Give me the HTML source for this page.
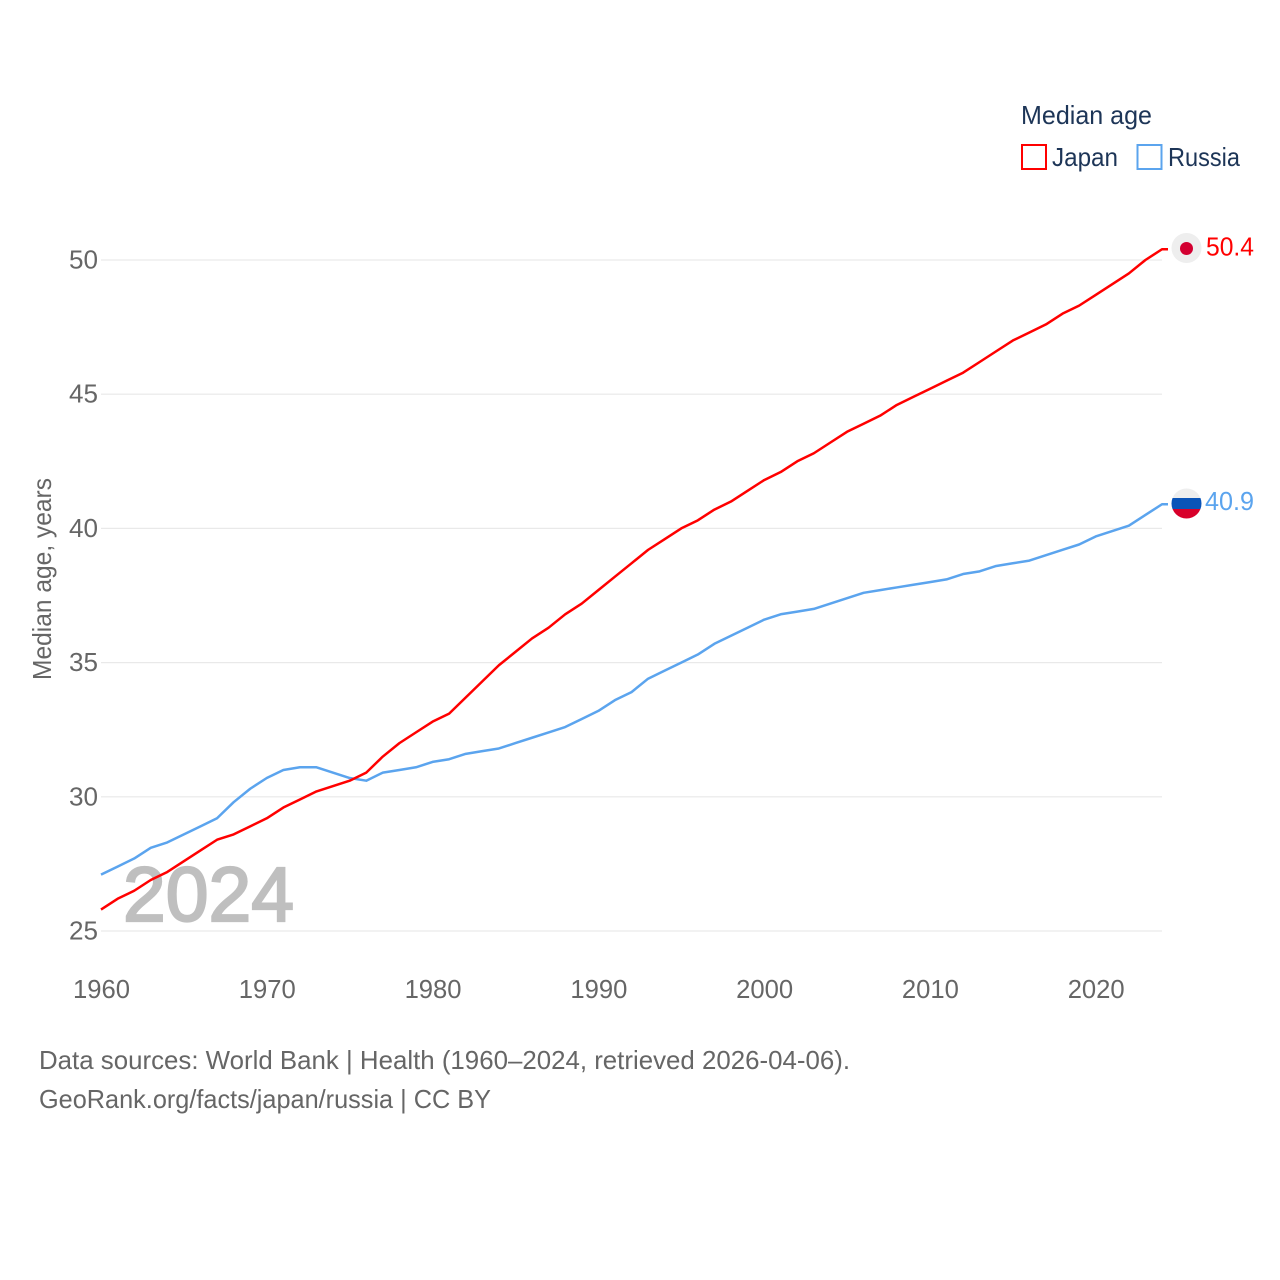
<!DOCTYPE html>
<html lang="en">
<head>
<meta charset="utf-8">
<title>Median age: Japan and Russia</title>
<style>
html,body{margin:0;padding:0;background:#fff;width:1280px;height:1280px;overflow:hidden}
svg{display:block}
text{font-family:"Liberation Sans",sans-serif;font-size:26px}
</style>
</head>
<body>
<svg id="chart" xmlns="http://www.w3.org/2000/svg" width="1280" height="1280" viewBox="0 0 1280 1280">
  <defs>
    <clipPath id="ru-clip"><circle cx="1186.5" cy="503.5" r="15"/></clipPath>
  </defs>
  <g id="grid"></g>
  <text x="123" y="921" fill="#bfbfbf" stroke="#bfbfbf" stroke-width="2.2" style="font-size:77px" textLength="171" lengthAdjust="spacingAndGlyphs">2024</text>
  <g id="yticks"></g>
  <g id="xticks"></g>
  <text transform="translate(51,680) rotate(-90)" fill="#666" textLength="202" lengthAdjust="spacingAndGlyphs">Median age, years</text>
  <g id="series"></g>

  <g>
    <text x="1021" y="124" fill="#1d3557" textLength="131" lengthAdjust="spacingAndGlyphs">Median age</text>
    <rect x="1022" y="145" width="24" height="24" fill="none" stroke="#ff0000" stroke-width="2"/>
    <text x="1052" y="166" fill="#1d3557" textLength="66" lengthAdjust="spacingAndGlyphs">Japan</text>
    <rect x="1137.5" y="145" width="24" height="24" fill="none" stroke="#5ba4ee" stroke-width="2"/>
    <text x="1168" y="166" fill="#1d3557" textLength="72" lengthAdjust="spacingAndGlyphs">Russia</text>
  </g>

  <g>
    <circle cx="1186.5" cy="248" r="15" fill="#eeeeee"/>
    <circle cx="1186.5" cy="248.5" r="6.5" fill="#d30031"/>
  </g>
  <g clip-path="url(#ru-clip)">
    <rect x="1171" y="488" width="31" height="10" fill="#eeeeee"/>
    <rect x="1171" y="498" width="31" height="11" fill="#0a54b8"/>
    <rect x="1171" y="509" width="31" height="11" fill="#d8002a"/>
  </g>
  <g id="endlabels"></g>

  <text x="39" y="1069" fill="#666" textLength="811" lengthAdjust="spacingAndGlyphs">Data sources: World Bank | Health (1960–2024, retrieved 2026-04-06).</text>
  <text x="39" y="1108" fill="#666" textLength="452" lengthAdjust="spacingAndGlyphs">GeoRank.org/facts/japan/russia | CC BY</text>
</svg>
<script>
const years = [];
for (let yr = 1960; yr <= 2024; yr++) years.push(yr);
const japanValues = [25.8,26.2,26.5,26.9,27.2,27.6,28.0,28.4,28.6,28.9,29.2,29.6,29.9,30.2,30.4,30.6,30.9,31.5,32.0,32.4,32.8,33.1,33.7,34.3,34.9,35.4,35.9,36.3,36.8,37.2,37.7,38.2,38.7,39.2,39.6,40.0,40.3,40.7,41.0,41.4,41.8,42.1,42.5,42.8,43.2,43.6,43.9,44.2,44.6,44.9,45.2,45.5,45.8,46.2,46.6,47.0,47.3,47.6,48.0,48.3,48.7,49.1,49.5,50.0,50.4];
const russiaValues = [27.1,27.4,27.7,28.1,28.3,28.6,28.9,29.2,29.8,30.3,30.7,31.0,31.1,31.1,30.9,30.7,30.6,30.9,31.0,31.1,31.3,31.4,31.6,31.7,31.8,32.0,32.2,32.4,32.6,32.9,33.2,33.6,33.9,34.4,34.7,35.0,35.3,35.7,36.0,36.3,36.6,36.8,36.9,37.0,37.2,37.4,37.6,37.7,37.8,37.9,38.0,38.1,38.3,38.4,38.6,38.7,38.8,39.0,39.2,39.4,39.7,39.9,40.1,40.5,40.9];
const yTicks = [25,30,35,40,45,50];
const xTicks = [1960,1970,1980,1990,2000,2010,2020];

const NS = 'http://www.w3.org/2000/svg';
function xScale(yr){ return 101 + (yr - 1960) * (1162 - 101) / 64; }
function yScale(v){ return 931 - (v - 25) * (931 - 260) / 25; }
function make(tag, parent, attrs){
  const el = document.createElementNS(NS, tag);
  for (const k in attrs) el.setAttribute(k, attrs[k]);
  parent.appendChild(el);
  return el;
}

const grid = document.getElementById('grid');
const yG = document.getElementById('yticks');
yTicks.forEach(function(t){
  const ln = make('line', grid, {x1:101, x2:1162, y1:yScale(t), y2:yScale(t), stroke:'#e9e9e9', 'stroke-width':1.2});
  
  
  const tx = make('text', yG, {x:69, y:yScale(t)+8.5, fill:'#666', textLength:29, lengthAdjust:'spacingAndGlyphs'});
  
  
  tx.textContent = t;
});

const xG = document.getElementById('xticks');
xTicks.forEach(function(t){
  const tx = make('text', xG, {x:xScale(t)-28, y:998, fill:'#666', textLength:57, lengthAdjust:'spacingAndGlyphs'});
  
  
  tx.textContent = t;
});

const seriesG = document.getElementById('series');
function drawSeries(values, color, name){
  let pts = values.map(function(v, i){ return xScale(years[i]).toFixed(2) + ',' + yScale(v).toFixed(2); });
  const last = values[values.length - 1];
  pts.push((xScale(years[years.length - 1]) + 6).toFixed(2) + ',' + yScale(last).toFixed(2));
  const pl = make('polyline', seriesG, {points:pts.join(' '), fill:'none', stroke:color, 'stroke-width':2.5, 'stroke-linejoin':'round'});
  
  
}
drawSeries(russiaValues, '#5ba4ee', 'line-russia');
drawSeries(japanValues, '#ff0000', 'line-japan');

const endG = document.getElementById('endlabels');
const jpLabel = make('text', endG, {x:1206, y:yScale(japanValues[japanValues.length-1])+6, fill:'#ff0000', textLength:48, lengthAdjust:'spacingAndGlyphs'});


jpLabel.textContent = japanValues[japanValues.length-1].toFixed(1);
const ruLabel = make('text', endG, {x:1205, y:yScale(russiaValues[russiaValues.length-1])+6, fill:'#5ba4ee', textLength:49, lengthAdjust:'spacingAndGlyphs'});


ruLabel.textContent = russiaValues[russiaValues.length-1].toFixed(1);
</script>
</body>
</html>
